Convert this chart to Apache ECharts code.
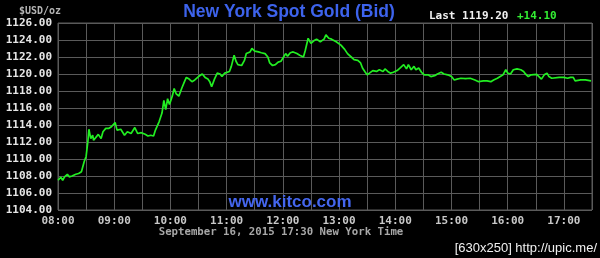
<!DOCTYPE html>
<html>
<head>
<meta charset="utf-8">
<script src="https://cdn.jsdelivr.net/npm/echarts@6/dist/echarts.min.js"></script>
<style>
html,body{margin:0;padding:0;background:#000;}
#chart{width:600px;height:258px;}
</style>
</head>
<body>
<div id="chart"></div>
<script>
// minutes after 08:00 New York time
const minutes = [0,3,5,7,10,12,15,19,22,25,28,30,32,33,35,37,38,40,43,46,48,51,54,57,61,63,67,71,74,78,82,85,89,93,96,99,102,104,108,111,113,115,117,119,122,124,126,129,132,135,137,140,
143,146,150,154,157,160,162,164,167,170,173,175,178,180,183,185,188,190,192,196,199,201,205,207,210,214,217,221,224,226,229,232,235,238,240,243,245,248,251,255,258,262,264,267,270,273,276,280,
284,286,289,292,294,297,299,302,306,309,313,316,320,323,325,328,330,332,336,340,343,347,349,352,355,358,362,365,369,372,374,377,380,382,385,388,391,395,398,402,405,409,412,416,420,423,
426,430,435,440,445,449,454,458,462,465,469,472,475,478,480,483,486,490,494,497,499,502,505,507,511,513,516,519,522,524,527,529,535,540,544,547,550,552,558,563,569];
const prices = [1107.5,1107.85,1107.5,1107.9,1108.2,1107.9,1108.0,1108.2,1108.3,1108.5,1109.7,1110.3,1112.2,1113.5,1112.4,1112.8,1112.2,1112.0,1112.9,1112.4,1113.2,1113.6,1113.6,1113.8,1114.3,1113.4,1113.5,1112.8,1113.2,1113.0,1113.7,1113.0,1113.1,1112.9,1112.7,1112.8,1112.7,1113.4,1114.4,1115.4,1116.9,1115.8,1117.1,1116.4,1117.4,1118.3,1117.7,1117.4,1118.3,1119.1,1119.6,1119.4,
1119.1,1119.3,1119.7,1120.0,1119.6,1119.4,1119.1,1118.5,1119.4,1120.1,1120.0,1119.7,1120.1,1119.9,1120.3,1120.9,1122.2,1121.5,1121.1,1121.0,1121.6,1122.4,1122.6,1123.0,1122.7,1122.6,1122.5,1122.4,1122.0,1121.3,1121.0,1121.1,1121.4,1121.5,1121.7,1122.4,1122.1,1122.5,1122.6,1122.4,1122.2,1122.0,1122.8,1124.2,1123.6,1123.9,1124.1,1123.8,
1124.1,1124.6,1124.2,1124.1,1123.9,1123.8,1123.7,1123.4,1122.9,1122.4,1122.0,1121.7,1121.6,1121.3,1120.7,1120.2,1119.9,1120.1,1120.4,1120.3,1120.5,1120.3,1120.6,1120.3,1120.1,1120.2,1120.4,1120.7,1121.1,1120.6,1121.1,1120.5,1120.9,1120.5,1120.7,1120.2,1119.9,1119.9,1119.7,1119.8,1120.0,1120.2,1120.0,1119.9,1119.7,1119.3,
1119.4,1119.5,1119.45,1119.5,1119.3,1119.1,1119.2,1119.2,1119.1,1119.3,1119.5,1119.7,1119.9,1120.5,1120.1,1120.0,1120.5,1120.6,1120.5,1120.3,1120.0,1119.7,1119.9,1119.8,1119.95,1120.0,1119.4,1119.9,1120.1,1119.7,1119.5,1119.6,1119.6,1119.6,1119.5,1119.6,1119.6,1119.2,1119.3,1119.3,1119.2];
const yTicks = [1104,1106,1108,1110,1112,1114,1116,1118,1120,1122,1124,1126];
const xTickLabels = ['08:00','09:00','10:00','11:00','12:00','13:00','14:00','15:00','16:00','17:00'];
const titleText = 'New York Spot Gold (Bid)';
const lastText = 'Last 1119.20';
const changeText = '+14.10';
const unitText = '$USD/oz';
const dateText = 'September 16, 2015 17:30 New York Time';
const siteText = 'www.kitco.com';
const stampText = '[630x250] http://upic.me/';

const chart = echarts.init(document.getElementById('chart'), null, {renderer:'canvas'});
const mono = 'bold 11px "DejaVu Sans Mono", monospace';
chart.setOption({
  backgroundColor:'#000',
  animation:false,
  grid:{left:58,top:23,right:8,bottom:48,show:true,borderColor:'#5a5a5a',borderWidth:1,backgroundColor:'#000'},
  xAxis:{
    type:'value',min:0,max:570,interval:30,
    axisLine:{show:false},axisTick:{show:false},
    splitLine:{show:true,lineStyle:{color:'#5a5a5a',width:1}},
    axisLabel:{
      color:'#c8c8c8',fontFamily:'"DejaVu Sans Mono", monospace',fontWeight:'bold',fontSize:11,margin:6,
      formatter:function(v){ if(v%60!==0) return ''; const i=v/60; return xTickLabels[i]||''; }
    }
  },
  yAxis:{
    type:'value',min:yTicks[0],max:yTicks[yTicks.length-1],interval:2,
    axisLine:{show:false},axisTick:{show:false},
    splitLine:{show:true,lineStyle:{color:'#5a5a5a',width:1}},
    axisLabel:{color:'#e6e6e6',fontFamily:'"DejaVu Sans Mono", monospace',fontWeight:'bold',fontSize:11,margin:6,
      formatter:function(v){return v.toFixed(2);}}
  },
  series:[{
    type:'line',
    data:minutes.map((m,i)=>[m,prices[i]]),
    showSymbol:false,
    lineStyle:{color:'#22ee22',width:1.7},
    z:5
  }],
  graphic:[
    {type:'text',z:10,style:{text:unitText,x:19,y:11,font:'bold 10px "DejaVu Sans Mono", monospace',fill:'#b4b4b4',textVerticalAlign:'middle'}},
    {type:'text',z:10,style:{text:titleText,x:289,y:12,font:'bold 17.5px "Liberation Sans", Arial, sans-serif',fill:'#3d63ec',textAlign:'center',textVerticalAlign:'middle'}},
    {type:'text',z:10,style:{text:lastText,x:429,y:16,font:mono,fill:'#f0f0f0',textVerticalAlign:'middle'}},
    {type:'text',z:10,style:{text:changeText,x:517,y:16,font:mono,fill:'#33ee33',textVerticalAlign:'middle'}},
    {type:'text',z:10,style:{text:siteText,x:290,y:202,font:'bold 17px "Liberation Sans", Arial, sans-serif',fill:'#4466ee',textAlign:'center',textVerticalAlign:'middle'}},
    {type:'text',z:10,style:{text:dateText,x:281,y:232,font:'bold 10.7px "DejaVu Sans Mono", monospace',fill:'#a8a8a8',textAlign:'center',textVerticalAlign:'middle'}},
    {type:'text',z:10,style:{text:stampText,x:597,y:248,font:'13px "Liberation Sans", Arial, sans-serif',fill:'#f0f0f0',textAlign:'right',textVerticalAlign:'middle'}}
  ]
});
</script>
</body>
</html>
